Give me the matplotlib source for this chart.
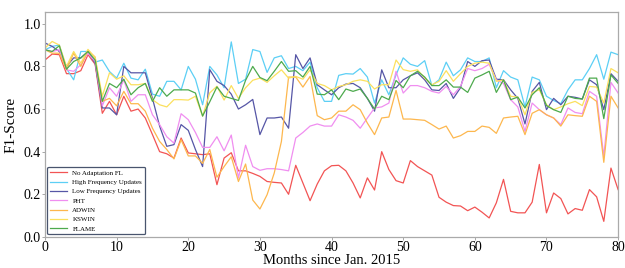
import numpy as np
import matplotlib.pyplot as plt

# Meses 0..80
months = list(range(81))

no_adaptation = [0.83, 0.858, 0.855, 0.766, 0.766, 0.78, 0.855, 0.81, 0.58, 0.636,
                 0.573, 0.66, 0.59, 0.60, 0.558, 0.48, 0.40, 0.39, 0.37, 0.464,
                 0.394, 0.39, 0.386, 0.39, 0.245, 0.37, 0.395, 0.31, 0.31, 0.298,
                 0.284, 0.26, 0.256, 0.253, 0.20, 0.336, 0.253, 0.17, 0.248, 0.31,
                 0.334, 0.336, 0.31, 0.253, 0.183, 0.277, 0.22, 0.40, 0.316, 0.264,
                 0.253, 0.358, 0.33, 0.31, 0.29, 0.186, 0.163, 0.147, 0.145, 0.123,
                 0.14, 0.116, 0.089, 0.16, 0.27, 0.12, 0.113, 0.113, 0.163, 0.34,
                 0.113, 0.206, 0.18, 0.108, 0.133, 0.125, 0.222, 0.188, 0.073, 0.323,
                 0.222]

high_freq = [0.878, 0.894, 0.90, 0.79, 0.737, 0.87, 0.87, 0.82, 0.83, 0.776,
             0.745, 0.815, 0.745, 0.737, 0.787, 0.67, 0.66, 0.73, 0.73, 0.69,
             0.80, 0.74, 0.62, 0.80, 0.76, 0.70, 0.915, 0.72, 0.74, 0.879,
             0.87, 0.772, 0.84, 0.85, 0.79, 0.80, 0.78, 0.82, 0.70, 0.636,
             0.636, 0.758, 0.766, 0.764, 0.79, 0.75, 0.628, 0.737, 0.667, 0.76,
             0.84, 0.81, 0.80, 0.827, 0.71, 0.737, 0.82, 0.756, 0.784, 0.84,
             0.823, 0.823, 0.84, 0.70, 0.78, 0.75, 0.737, 0.61, 0.75, 0.737,
             0.66, 0.64, 0.625, 0.69, 0.737, 0.737, 0.79, 0.855, 0.74, 0.867,
             0.855]

low_freq = [0.91, 0.894, 0.87, 0.80, 0.84, 0.84, 0.87, 0.815, 0.605, 0.605,
            0.573, 0.80, 0.77, 0.77, 0.77, 0.65, 0.52, 0.425, 0.433, 0.527,
            0.50, 0.41, 0.33, 0.785, 0.73, 0.71, 0.67, 0.60, 0.62, 0.645,
            0.48, 0.558, 0.558, 0.5625, 0.51, 0.855, 0.79, 0.84, 0.714, 0.69,
            0.667, 0.70, 0.717, 0.72, 0.70, 0.65, 0.59, 0.784, 0.70, 0.70,
            0.737, 0.756, 0.77, 0.737, 0.69, 0.687, 0.72, 0.65, 0.70, 0.823,
            0.80, 0.827, 0.83, 0.74, 0.737, 0.69, 0.65, 0.53, 0.683, 0.725,
            0.597, 0.65, 0.62, 0.66, 0.655, 0.647, 0.737, 0.714, 0.597, 0.766,
            0.73]

pht = [0.878, 0.87, 0.878, 0.784, 0.777, 0.808, 0.862, 0.823, 0.615, 0.70,
       0.66, 0.737, 0.636, 0.667, 0.667, 0.573, 0.527, 0.47, 0.44, 0.578,
       0.55, 0.49, 0.42, 0.42, 0.47, 0.404, 0.478, 0.276, 0.43, 0.33,
       0.3125, 0.32, 0.32, 0.316, 0.31, 0.464, 0.49, 0.52, 0.53, 0.52,
       0.52, 0.573, 0.5625, 0.547, 0.51, 0.558, 0.605, 0.61, 0.628, 0.777,
       0.675, 0.71, 0.71, 0.70, 0.683, 0.675, 0.706, 0.667, 0.706, 0.79,
       0.78, 0.79, 0.81, 0.737, 0.72, 0.644, 0.61, 0.495, 0.628, 0.597,
       0.573, 0.558, 0.527, 0.605, 0.584, 0.578, 0.683, 0.66, 0.378, 0.725,
       0.675]

adwin = [0.878, 0.862, 0.862, 0.784, 0.862, 0.80, 0.875, 0.844, 0.636, 0.65,
         0.615, 0.683, 0.625, 0.625, 0.59, 0.51, 0.448, 0.41, 0.366, 0.456,
         0.38, 0.38, 0.345, 0.41, 0.28, 0.33, 0.376, 0.26, 0.342, 0.173,
         0.131, 0.198, 0.30, 0.448, 0.75, 0.75, 0.703, 0.753, 0.569, 0.55,
         0.558, 0.59, 0.59, 0.62, 0.597, 0.534, 0.48, 0.558, 0.5625, 0.6875,
         0.553, 0.553, 0.55, 0.547, 0.527, 0.506, 0.52, 0.464, 0.475, 0.495,
         0.495, 0.52, 0.514, 0.486, 0.558, 0.5625, 0.566, 0.48, 0.58, 0.597,
         0.573, 0.558, 0.52, 0.573, 0.569, 0.566, 0.66, 0.636, 0.35, 0.66,
         0.605]

kswin = [0.886, 0.917, 0.90, 0.80, 0.87, 0.815, 0.88, 0.84, 0.66, 0.77,
         0.74, 0.756, 0.714, 0.714, 0.72, 0.644, 0.62, 0.61, 0.644, 0.644,
         0.642, 0.66, 0.567, 0.676, 0.707, 0.642, 0.71, 0.65, 0.70, 0.735,
         0.745, 0.725, 0.756, 0.784, 0.745, 0.753, 0.74, 0.784, 0.72, 0.71,
         0.69, 0.706, 0.714, 0.73, 0.737, 0.73, 0.694, 0.714, 0.714, 0.83,
         0.785, 0.777, 0.784, 0.745, 0.714, 0.73, 0.78, 0.73, 0.766, 0.80,
         0.815, 0.82, 0.815, 0.73, 0.737, 0.66, 0.656, 0.573, 0.678, 0.69,
         0.62, 0.597, 0.61, 0.625, 0.636, 0.616, 0.706, 0.703, 0.628, 0.79,
         0.77]

flame = [0.878, 0.87, 0.897, 0.787, 0.823, 0.84, 0.87, 0.83, 0.636, 0.72,
         0.70, 0.74, 0.667, 0.70, 0.72, 0.636, 0.70, 0.66, 0.69, 0.69,
         0.69, 0.675, 0.567, 0.634, 0.704, 0.66, 0.65, 0.64, 0.735, 0.80,
         0.748, 0.733, 0.777, 0.823, 0.777, 0.78, 0.75, 0.80, 0.67, 0.667,
         0.69, 0.644, 0.694, 0.683, 0.694, 0.65, 0.60, 0.66, 0.644, 0.734,
         0.70, 0.756, 0.777, 0.75, 0.71, 0.71, 0.737, 0.703, 0.703, 0.678,
         0.745, 0.76, 0.777, 0.678, 0.737, 0.644, 0.656, 0.605, 0.667, 0.70,
         0.616, 0.597, 0.584, 0.66, 0.65, 0.647, 0.745, 0.745, 0.555, 0.76,
         0.72]

series = [
    ('No Adaptation FL', no_adaptation, '#f25454'),
    ('High Frequency Updates', high_freq, '#5ccff5'),
    ('Low Frequency Updates', low_freq, '#5656a6'),
    ('PHT', pht, '#f08ef0'),
    ('ADWIN', adwin, '#fdb74e'),
    ('KSWIN', kswin, '#fbe05e'),
    ('FLAME', flame, '#4daa4d'),
]

plt.rcParams['font.family'] = ['Liberation Serif', 'DejaVu Serif']

fig = plt.figure(figsize=(6.25, 2.68), dpi=100)
ax = fig.add_axes([0.072, 0.116, 0.917, 0.839])

for name, vals, color in series:
    ax.plot(months, vals, color=color, linewidth=0.9, label=name)

ax.set_xlim(0, 80)
ax.set_ylim(0, 1.055)
ax.set_xticks(np.arange(0, 81, 10))
ax.set_yticks(np.arange(0, 1.01, 0.2))
ax.yaxis.set_major_formatter(plt.FormatStrFormatter('%.1f'))
ax.tick_params(labelsize=10, length=2, width=0.6, color='#999999', pad=1)

for s in ax.spines.values():
    s.set_color('#aaaaaa')
    s.set_linewidth(0.9)

ax.set_ylabel('F1-Score', fontsize=11, labelpad=4)
# la etiqueta queda pegada al borde inferior, como en la original
ax.set_xlabel('Months since Jan. 2015', fontsize=10.5, labelpad=0)

leg = ax.legend(loc='lower left', fontsize=5, handlelength=2.4,
                borderaxespad=0.35, labelspacing=0.5, frameon=True,
                fancybox=True)
leg.get_frame().set_edgecolor('#1c2a4a')
leg.get_frame().set_linewidth(0.9)

plt.savefig('out.png', dpi=100)
